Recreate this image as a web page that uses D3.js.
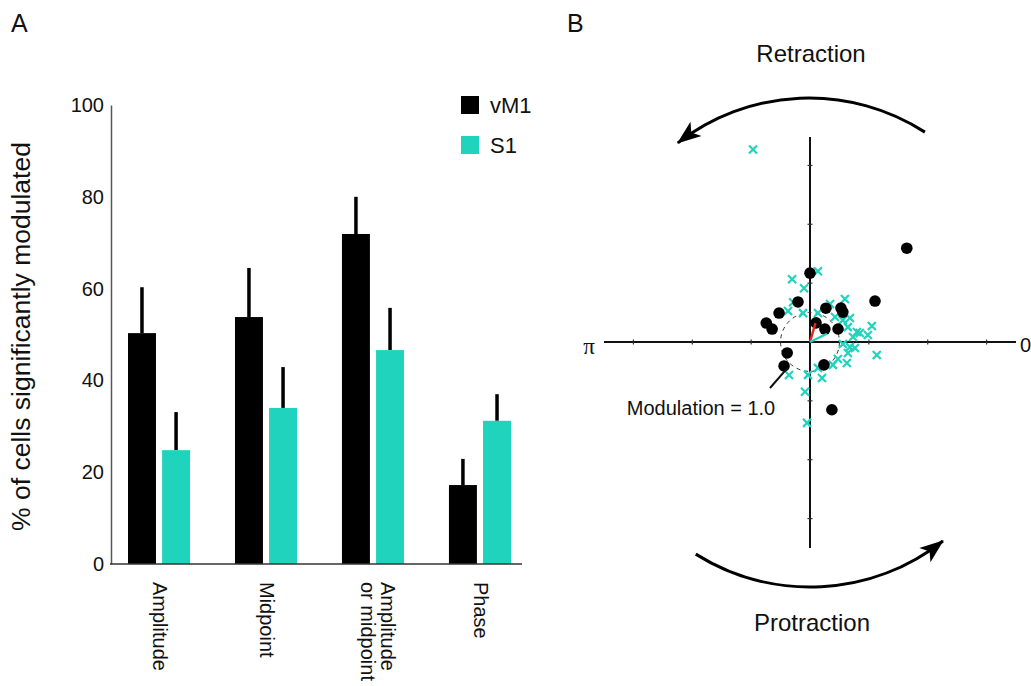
<!DOCTYPE html>
<html>
<head>
<meta charset="utf-8">
<script src="https://cdn.jsdelivr.net/npm/d3@7"></script>
<style>
  body { margin: 0; background: #fff; }
  text { font-family: 'Liberation Sans', Arial, sans-serif; fill: #111; }
</style>
</head>
<body>
<svg id="fig" width="1031" height="686"></svg>
<script>
// panel A
const categories = ['Amplitude', 'Midpoint', 'Amplitude or midpoint', 'Phase']
const categoryLines = [['Amplitude'], ['Midpoint'], ['Amplitude', 'or midpoint'], ['Phase']]
const vm1Values = [50.3, 53.8, 71.9, 17.2]
const vm1Errors = [10.0, 10.7, 8.1, 5.7]
const s1Values = [24.8, 34.0, 46.6, 31.2]
const s1Errors = [8.3, 8.9, 9.2, 5.8]
const yTicks = [0, 20, 40, 60, 80, 100]
const seriesNames = ['vM1', 'S1']

// panel B: preferred phase (degrees, 0 = right, pi = left) and modulation depth per cell
const vm1PhaseDeg = [90, 106.7, 136.9, 156.6, 161.1, 64.8, 47.6, 42.3, 72.5, 40.9, 24.9, 32.2, 44.1, -154.4, -137.3, -58.7, -72.1]
const vm1Modulation = [2.34, 1.42, 1.44, 1.62, 1.36, 1.27, 1.56, 1.51, 0.68, 0.67, 1.05, 2.61, 4.58, 0.86, 1.2, 0.91, 2.42]
const s1PhaseDeg = [106.5, 83.6, 105.9, 96.3, 113, 125.4, 103.6, 62.2, 50.9, 74.6, 45, 33.7, 31, 21.5, 12, 6.6, 14.5, 6.9, -11, -7.1, -7.6, -16.1, -29.6, -31.3, -45, -71.6, -73, -93.5, -122.5, -95.7, -92.1, 10.2, -3.5]
const s1Modulation = [6.82, 2.42, 2.22, 1.84, 1.47, 1.29, 1.01, 1.46, 1.88, 1.02, 1.2, 1.34, 1.58, 1.38, 1.63, 1.47, 2.17, 1.98, 2.31, 1.37, 1.54, 1.34, 1.44, 1.11, 1.1, 1.29, 0.92, 1.12, 1.33, 1.7, 2.75, 1.72, 1.12]
const meanPhaseDeg = [74, 26]
const meanModulation = [0.67, 0.64]
const radialTicks = [2, 4, 6]

const black = '#000'
const teal = '#1fd3bd'
const red = '#e3261f'

const svg = d3.select('#fig')

// ---------- A ----------
svg.append('text').attr('x', 11).attr('y', 32).attr('font-size', 25).text('A')

const y = d3.scaleLinear().domain([0, 100]).range([564, 105])
const x = d3.scaleBand().domain(categories).range([128, 511]).paddingInner(0.42)
const sub = d3.scaleBand().domain(seriesNames).range([0, x.bandwidth()]).paddingInner(0.18)

const yAxis = svg.append('g')
  .attr('transform', 'translate(111,0)')
  .call(d3.axisLeft(y).tickValues(yTicks).tickSize(0).tickPadding(7))
yAxis.select('.domain').attr('stroke', '#555').attr('stroke-width', 1.5)
yAxis.selectAll('text').attr('font-size', 20).attr('font-family', 'Liberation Sans, Arial').attr('fill', '#222')

svg.append('text')
  .attr('transform', `translate(30,${(y(0) + y(100)) / 2 + 2}) rotate(-90)`)
  .attr('text-anchor', 'middle')
  .attr('font-size', 26.5)
  .text('% of cells significantly modulated')

const rows = categories.map((c, i) => ({
  c,
  lines: categoryLines[i],
  bars: [
    { name: 'vM1', value: vm1Values[i], err: vm1Errors[i], color: black },
    { name: 'S1', value: s1Values[i], err: s1Errors[i], color: teal },
  ],
}))

const group = svg.selectAll('g.cat')
  .data(rows)
  .join('g')
  .attr('class', 'cat')
  .attr('transform', (d) => `translate(${x(d.c)},0)`)

group.selectAll('line.err')
  .data((d) => d.bars)
  .join('line')
  .attr('class', 'err')
  .attr('x1', (b) => sub(b.name) + sub.bandwidth() / 2)
  .attr('x2', (b) => sub(b.name) + sub.bandwidth() / 2)
  .attr('y1', (b) => y(b.value))
  .attr('y2', (b) => y(b.value + b.err))
  .attr('stroke', black)
  .attr('stroke-width', 3.5)

group.selectAll('rect')
  .data((d) => d.bars)
  .join('rect')
  .attr('x', (b) => sub(b.name))
  .attr('width', sub.bandwidth())
  .attr('y', (b) => y(b.value))
  .attr('height', (b) => y(0) - y(b.value))
  .attr('fill', (b) => b.color)

svg.append('line')
  .attr('x1', 110).attr('x2', 522)
  .attr('y1', y(0)).attr('y2', y(0))
  .attr('stroke', '#333').attr('stroke-width', 1.5)

group.append('text')
  .attr('transform', (d) => `translate(${x.bandwidth() / 2 + 1},582) rotate(90)`)
  .attr('font-size', 20)
  .selectAll('tspan')
  .data((d) => d.lines.map((t, k) => ({ t, k, n: d.lines.length })))
  .join('tspan')
  .attr('x', 0)
  .attr('y', (l) => (l.k - (l.n - 1) / 2) * 20 - (l.n - 1) * 4)
  .attr('dominant-baseline', 'central')
  .text((l) => l.t)

const legend = svg.selectAll('g.leg')
  .data(seriesNames)
  .join('g')
  .attr('class', 'leg')
  .attr('transform', (d, i) => `translate(461,${96 + i * 40})`)
legend.append('rect').attr('width', 18).attr('height', 18)
  .attr('fill', (d, i) => (i === 0 ? black : teal))
legend.append('text').attr('x', 29).attr('y', 17).attr('font-size', 22).text((d) => d)

// ---------- B ----------
svg.append('text').attr('x', 567).attr('y', 32).attr('font-size', 25).text('B')

const cx = 810
const cy = 342
const r = d3.scaleLinear().domain([0, 7]).range([0, 206])
const toRad = (deg) => (deg * Math.PI) / 180
const pt = (deg, m) => d3.pointRadial(Math.PI / 2 - toRad(deg), r(m))

const polar = svg.append('g').attr('transform', `translate(${cx},${cy})`)

polar.append('line').attr('x1', -r(7)).attr('x2', r(7)).attr('y1', 0).attr('y2', 0)
  .attr('stroke', '#111').attr('stroke-width', 2)
polar.append('line').attr('y1', -r(6.97)).attr('y2', r(7)).attr('x1', 0).attr('x2', 0)
  .attr('stroke', '#111').attr('stroke-width', 2)

const tickData = radialTicks.flatMap((t) => [0, 90, 180, 270].map((a) => ({ t, a })))
polar.selectAll('line.rt')
  .data(tickData)
  .join('line')
  .attr('class', 'rt')
  .attr('x1', (d) => pt(d.a, d.t)[0] + (d.a % 180 === 0 ? 0 : -2.5))
  .attr('x2', (d) => pt(d.a, d.t)[0] + (d.a % 180 === 0 ? 0 : 2.5))
  .attr('y1', (d) => pt(d.a, d.t)[1] + (d.a % 180 === 0 ? -2.5 : 0))
  .attr('y2', (d) => pt(d.a, d.t)[1] + (d.a % 180 === 0 ? 2.5 : 0))
  .attr('stroke', '#333').attr('stroke-width', 1.2)

polar.append('circle').attr('r', r(1)).attr('fill', 'none')
  .attr('stroke', '#333').attr('stroke-width', 1).attr('stroke-dasharray', '4,4')

const crosses = s1PhaseDeg.map((p, i) => pt(p, s1Modulation[i]))
polar.selectAll('path.x')
  .data(crosses)
  .join('path')
  .attr('class', 'x')
  .attr('d', (p) => `M${p[0] - 4},${p[1] - 4}L${p[0] + 4},${p[1] + 4}M${p[0] - 4},${p[1] + 4}L${p[0] + 4},${p[1] - 4}`)
  .attr('stroke', teal).attr('stroke-width', 2.2)

const dots = vm1PhaseDeg.map((p, i) => pt(p, vm1Modulation[i]))
polar.selectAll('circle.dot')
  .data(dots)
  .join('circle')
  .attr('class', 'dot')
  .attr('cx', (p) => p[0]).attr('cy', (p) => p[1])
  .attr('r', 5.8).attr('fill', black)

polar.selectAll('line.mean')
  .data(meanPhaseDeg.map((p, i) => ({ p: pt(p, meanModulation[i]), c: i === 0 ? red : teal })))
  .join('line')
  .attr('class', 'mean')
  .attr('x1', 0).attr('y1', 0)
  .attr('x2', (d) => d.p[0]).attr('y2', (d) => d.p[1])
  .attr('stroke', (d) => d.c).attr('stroke-width', 2.4)

// pointer to the 1.0 circle
const p0 = pt(-131, 2.07)
const p1 = pt(-131, 1.15)
polar.append('line').attr('x1', p0[0]).attr('y1', p0[1]).attr('x2', p1[0]).attr('y2', p1[1])
  .attr('stroke', '#111').attr('stroke-width', 2)

svg.append('text').attr('x', 701).attr('y', 415).attr('text-anchor', 'middle')
  .attr('font-size', 20).text('Modulation = 1.0')
svg.append('text').attr('x', 589).attr('y', 354).attr('text-anchor', 'middle')
  .attr('font-size', 23).style('font-family', 'Liberation Serif, serif').text('π')
svg.append('text').attr('x', 1020).attr('y', 352).attr('font-size', 20).text('0')

svg.append('text').attr('x', 811).attr('y', 62).attr('text-anchor', 'middle').attr('font-size', 24).text('Retraction')
svg.append('text').attr('x', 812).attr('y', 631).attr('text-anchor', 'middle').attr('font-size', 24).text('Protraction')

// rotation arrows
const defs = svg.append('defs')
defs.append('marker')
  .attr('id', 'head')
  .attr('viewBox', '-24 -10 26 20')
  .attr('refX', 0).attr('refY', 0)
  .attr('markerUnits', 'userSpaceOnUse')
  .attr('markerWidth', 26).attr('markerHeight', 20)
  .attr('orient', 'auto')
  .append('path')
  .attr('d', 'M1,0L-23,-9L-17,0L-23,9Z')
  .attr('fill', '#000')

const arcs = [
  { dx: -1, dy: -30, radius: 214, a0: -57.2, a1: -127.8 },
  { dx: 0, dy: 30, radius: 215, a0: 122.1, a1: 51.8 },
]
svg.selectAll('path.rot')
  .data(arcs)
  .join('path')
  .attr('class', 'rot')
  .attr('d', (a) => {
    const p = d3.path()
    p.arc(cx + a.dx, cy + a.dy, a.radius, toRad(a.a0), toRad(a.a1), true)
    return p.toString()
  })
  .attr('fill', 'none')
  .attr('stroke', '#000')
  .attr('stroke-width', 3)
  .attr('marker-end', 'url(#head)')
</script>
</body>
</html>
